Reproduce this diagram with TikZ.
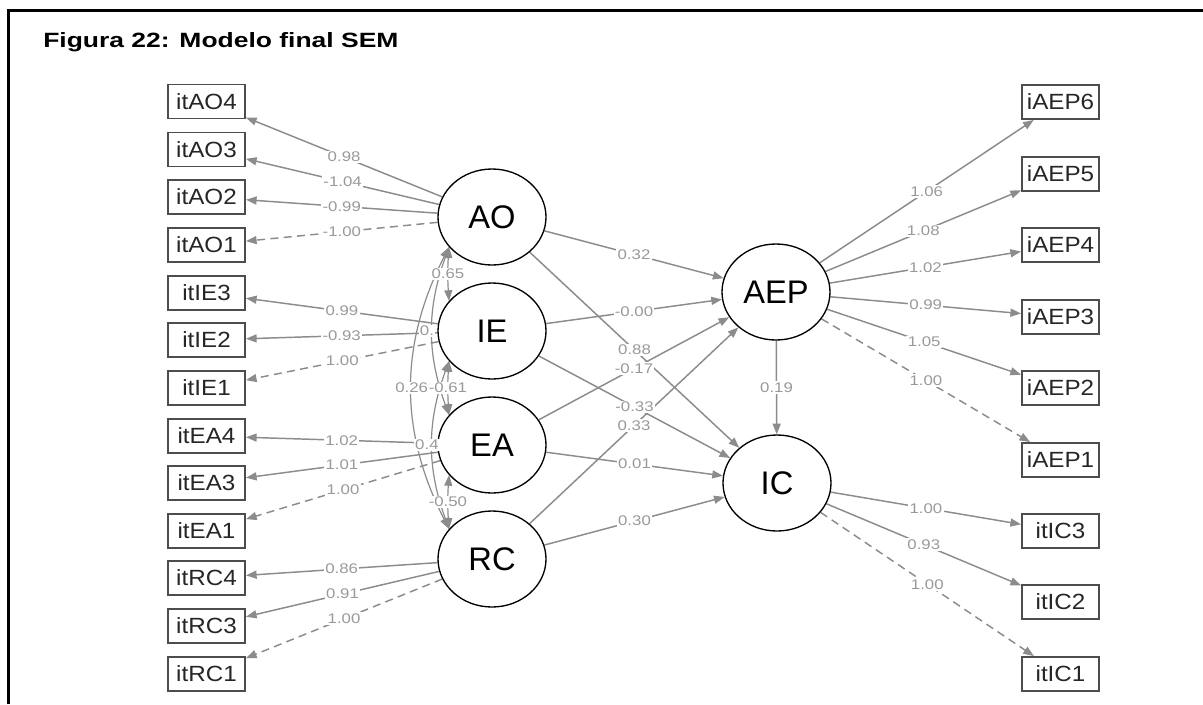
\documentclass[tikz,border=0pt]{standalone}
\usepackage{fontspec}
\setmainfont{Liberation Sans}
\newfontfamily\titlefont{Liberation Sans}[FakeStretch=1.28]
\newfontfamily\itemfont{Liberation Sans}[FakeStretch=1.1]
\newfontfamily\coeffont{Liberation Sans}[FakeStretch=1.2]
\usetikzlibrary{arrows.meta,shapes.geometric}

\definecolor{edgegray}{HTML}{8C8C8C}
\definecolor{labgray}{HTML}{9A9A9A}
\definecolor{boxline}{HTML}{4D4D4D}

\pgfdeclarelayer{paper}
\pgfdeclarelayer{edges}
\pgfsetlayers{paper,edges,main}

\tikzset{
  item/.style={draw=boxline, line width=1.4pt, fill=white,
    minimum width=57.75pt, minimum height=25.5pt, inner sep=0pt,
    font=\itemfont\fontsize{16.5}{19}\selectfont, text=black!85},
  latent/.style={ellipse, draw=black, line width=1pt, fill=white,
    minimum width=81pt, minimum height=72pt, inner sep=0pt,
    font=\fontsize{24.5}{28}\selectfont},
  semarrow/.style={draw=edgegray, line width=1.1pt,
    -{Triangle[length=8pt,width=6pt]}},
  fixedarrow/.style={semarrow, dash pattern=on 6pt off 4pt},
  covarrow/.style={draw=edgegray, line width=0.9pt,
    {Triangle[length=8pt,width=6pt]}-{Triangle[length=8pt,width=6pt]}},
  lab/.style={fill=white, inner sep=1pt, text=labgray,
    font=\coeffont\fontsize{10.5}{12}\selectfont},
}

\begin{document}
\begin{tikzpicture}[x=0.75pt, y=-0.75pt]
\useasboundingbox (0,0) rectangle (1203,704);
\begin{pgfonlayer}{paper}
\fill[white] (0,0) rectangle (1203,704);
\end{pgfonlayer}

% frame and caption
\draw[line width=2pt, black] (8.5,704) -- (8.5,10.5) -- (1203,10.5);
\node[anchor=base west, inner sep=0pt,
  font=\titlefont\bfseries\fontsize{15.5}{18}\selectfont] (title) at (43,47)
  {Figura 22: Modelo final SEM};

% observed indicators, left column
\foreach \n/\y in {itAO4/101.5, itAO3/149.5, itAO2/197, itAO1/245,
                   itIE3/293, itIE2/340, itIE1/388,
                   itEA4/436, itEA3/483, itEA1/531,
                   itRC4/578, itRC3/626, itRC1/674}
  \node[item] (\n) at (206.5,\y) {\n};

% observed indicators, right column
\foreach \n/\y in {iAEP6/102, iAEP5/174, iAEP4/245, iAEP3/317,
                   iAEP2/388, iAEP1/460, itIC3/531, itIC2/602, itIC1/674}
  \node[item] (\n) at (1060.5,\y) {\n};

% latent variables
\node[latent] (AO)  at (492,217) {AO};
\node[latent] (IE)  at (492,331) {IE};
\node[latent] (EA)  at (492,445) {EA};
\node[latent] (RC)  at (492,559) {RC};
\node[latent] (AEP) at (776,292) {AEP};
\node[latent] (IC)  at (777,483) {IC};

% edges
\begin{pgfonlayer}{edges}
\foreach \a/\b in {AO/itAO4, AO/itAO3, AO/itAO2, IE/itIE3, IE/itIE2,
                   EA/itEA4, EA/itEA3, RC/itRC4, RC/itRC3,
                   AEP/iAEP6, AEP/iAEP5, AEP/iAEP4, AEP/iAEP3, AEP/iAEP2,
                   IC/itIC3, IC/itIC2,
                   AO/AEP, IE/AEP, EA/AEP, RC/AEP,
                   AO/IC, IE/IC, EA/IC, RC/IC, AEP/IC}
  \draw[semarrow] (\a) -- (\b);
\foreach \a/\b in {AO/itAO1, IE/itIE1, EA/itEA1, RC/itRC1, AEP/iAEP1, IC/itIC1}
  \draw[fixedarrow] (\a) -- (\b);
% covariances among the exogenous factors
\draw[covarrow] (AO.215) to[bend right=4]  (IE.145);
\draw[covarrow] (IE.215) to[bend right=4]  (EA.145);
\draw[covarrow] (EA.215) to[bend right=4]  (RC.145);
\draw[covarrow] (AO.215) to[bend right=20] (EA.145);
\draw[covarrow] (IE.215) to[bend right=20] (RC.145);
\draw[covarrow] (AO.215) to[bend right=27] (RC.145);
\end{pgfonlayer}

% coefficient labels
\foreach \a/\b/\v in {AO/itAO4/0.98, AO/itAO3/-1.04, AO/itAO2/-0.99, AO/itAO1/-1.00,
                      IE/itIE3/0.99, IE/itIE2/-0.93, IE/itIE1/1.00,
                      EA/itEA4/1.02, EA/itEA3/1.01, EA/itEA1/1.00,
                      RC/itRC4/0.86, RC/itRC3/0.91, RC/itRC1/1.00,
                      AEP/iAEP6/1.06, AEP/iAEP5/1.08, AEP/iAEP4/1.02,
                      AEP/iAEP3/0.99, AEP/iAEP2/1.05, AEP/iAEP1/1.00,
                      IC/itIC3/1.00, IC/itIC2/0.93, IC/itIC1/1.00,
                      AO/AEP/0.32, IE/AEP/-0.00, EA/AEP/-0.17, RC/AEP/0.33,
                      AO/IC/0.88, IE/IC/-0.33, EA/IC/0.01, RC/IC/0.30, AEP/IC/0.19}
  \path (\a) -- node[lab] {\v} (\b);
\path (AO.215) to[bend right=4]  node[lab] {0.65}  (IE.145);
\path (IE.215) to[bend right=4]  node[lab] {-0.61} (EA.145);
\path (EA.215) to[bend right=4]  node[lab] {-0.50} (RC.145);
\path (AO.215) to[bend right=20] node[lab, xshift=-4pt] {0.} (EA.145);
\path (IE.215) to[bend right=20] node[lab, xshift=-4pt] {0.4} (RC.145);
\path (AO.215) to[bend right=27] node[lab] {0.26} (RC.145);
\end{tikzpicture}
\end{document}
